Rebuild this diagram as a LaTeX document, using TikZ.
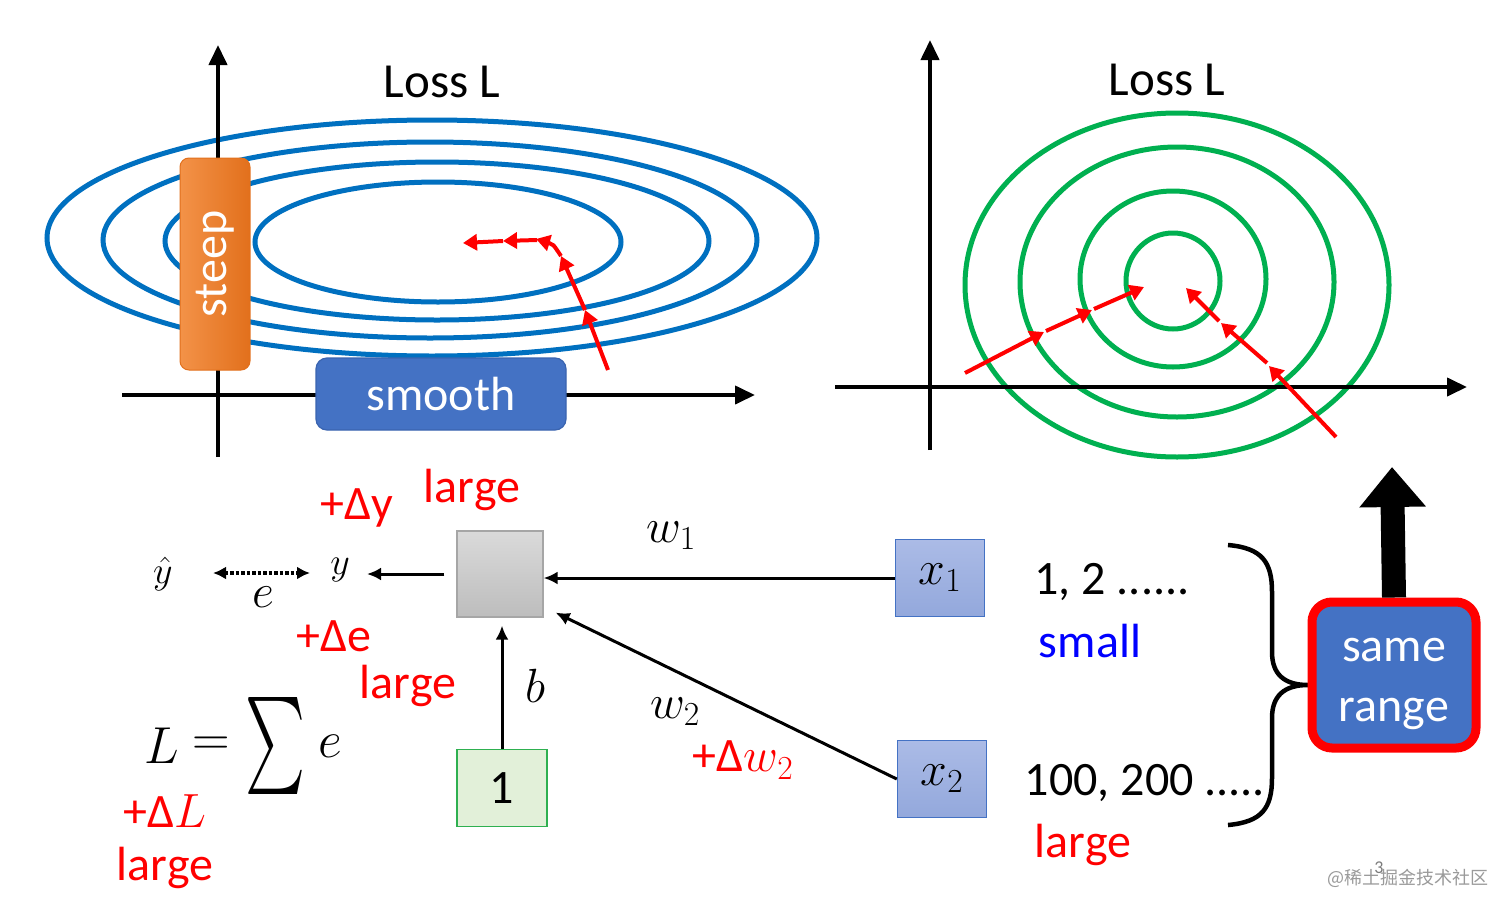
\RequirePackage{fix-cm}
\documentclass[tikz,border=0pt]{standalone}
\usepackage{fontspec}
\setmainfont{Carlito}
\newfontfamily\cjkfont{Noto Sans CJK SC}
\usepackage{graphicx}
\usetikzlibrary{arrows.meta}
\definecolor{ringblue}{HTML}{0070C0}
\definecolor{ringgreen}{HTML}{00B050}
\definecolor{pptred}{HTML}{FF0000}
\definecolor{smoothblue}{HTML}{4472C4}
\definecolor{smoothedge}{HTML}{3A64B0}
\definecolor{xfillA}{HTML}{ABBBE6}
\definecolor{xfillB}{HTML}{93A8DC}
\definecolor{xedge}{HTML}{4472C4}
\definecolor{onefill}{HTML}{E2F0D9}
\definecolor{oneedge}{HTML}{2EB050}
\definecolor{grayA}{HTML}{DADADA}
\definecolor{grayB}{HTML}{BDBDBD}
\definecolor{grayedge}{HTML}{A6A6A6}
\definecolor{steepA}{HTML}{F39248}
\definecolor{steepB}{HTML}{E2701C}
\definecolor{wmgray}{HTML}{9A9A9A}
\newcommand\bigtxt{\fontsize{48bp}{57bp}\selectfont}
\newcommand\mathtxt{\fontsize{48bp}{52bp}\selectfont}
\begin{document}
\begin{tikzpicture}[x=1bp,y=-1bp,
  ringb/.style={draw=ringblue,line width=5bp},
  ringg/.style={draw=ringgreen,line width=5bp},
  axisline/.style={line width=4bp,-{Triangle[width=18bp,length=20bp]}},
  redarr/.style={pptred,line width=4bp,-{Triangle[width=16bp,length=14bp]}},
  losstxt/.style={font=\fontsize{49bp}{57bp}\selectfont,inner sep=0pt},
  steepbox/.style={rounded corners=9bp,draw=steepB,line width=1bp,left color=steepA,right color=steepB,text=white,font=\bigtxt,minimum width=212bp,minimum height=70bp,inner sep=0pt},
  smoothbox/.style={rounded corners=11bp,draw=smoothedge,line width=1.2bp,fill=smoothblue,text=white,font=\bigtxt,minimum width=250bp,minimum height=72bp,inner sep=0pt},
  graybox/.style={draw=grayedge,line width=1.2bp,top color=grayA,bottom color=grayB,minimum width=86bp,minimum height=86bp,inner sep=0pt},
  xbox/.style={draw=xedge,line width=1.5bp,top color=xfillA,bottom color=xfillB,minimum width=89bp,minimum height=77bp,inner sep=0pt,font=\mathtxt},
  onebox/.style={draw=oneedge,line width=1.5bp,fill=onefill,minimum width=90bp,minimum height=77bp,inner sep=0pt,font=\bigtxt},
  arr/.style={line width=3bp,-{Latex[width=13bp,length=14bp]}},
  dotarr/.style={line width=3.5bp,dotted,{Latex[width=13bp,length=13bp]}-{Latex[width=13bp,length=13bp]}},
  redtxt/.style={text=pptred,font=\bigtxt,inner sep=0pt},
  blacktxt/.style={font=\bigtxt,inner sep=0pt},
  mlbl/.style={font=\mathtxt,inner sep=0pt},
  slbl/.style={font=\fontsize{38bp}{42bp}\selectfont,inner sep=0pt},
  samebox/.style={rounded corners=20bp,draw=pptred,line width=9bp,fill=smoothblue,minimum width=164bp,minimum height=146bp,inner sep=0pt},
  sametxt/.style={text=white,font=\bigtxt,align=center,inner sep=0pt},
  bigarrow/.style={line width=24bp,-{Triangle[width=64bp,length=40bp]}},
  brace/.style={line width=4.5bp},
  wm/.style={text=wmgray,font=\cjkfont\fontsize{18bp}{20bp}\selectfont,inner sep=0pt}
]
\useasboundingbox (0,0) rectangle (1512,913);
\fill[white] (0,0) rectangle (1512,913);

% ---------- left panel ----------
\draw[ringb] (432,238) ellipse [x radius=385, y radius=118];
\draw[ringb] (430,240) ellipse [x radius=327, y radius=98];
\draw[ringb] (437,241) ellipse [x radius=272, y radius=79];
\draw[ringb] (438,242) ellipse [x radius=183, y radius=60];
\draw[axisline] (218,457) -- (218,45);
\draw[axisline] (122,395) -- (755,395);
\node[steepbox,rotate=90] (steep) at (215,264) {steep};
\node[smoothbox] (smooth) at (441,394) {smooth};
\node[losstxt] (loss1) at (442,82) {Loss L};
\draw[redarr] (608,370) -- (585,310);
\draw[redarr] (585,310) -- (561,256);
\draw[redarr] (561,256) .. controls (553,244) .. (536,239);
\draw[redarr] (537,240) -- (503,241);
\draw[redarr] (503,241) -- (463,243);

% ---------- right panel ----------
\draw[ringg] (1177,285) ellipse [x radius=212, y radius=172];
\draw[ringg] (1177,282) ellipse [x radius=157, y radius=135];
\draw[ringg] (1173,279) ellipse [x radius=93, y radius=88];
\draw[ringg] (1173,281) ellipse [x radius=47, y radius=48];
\draw[axisline] (930,450) -- (930,40);
\draw[axisline] (835,387) -- (1467,387);
\node[losstxt] (loss2) at (1167,80) {Loss L};
\draw[redarr] (965,373) -- (1044,332);
\draw[redarr] (1046,331) -- (1092,310);
\draw[redarr] (1094,309) -- (1144,287);
\draw[redarr] (1336,437) -- (1269,366);
\draw[redarr] (1267,363) -- (1221,323);
\draw[redarr] (1219,321) -- (1186,288);

% ---------- bottom network ----------
\node[graybox] (g) at (500,574) {};
\node[xbox] (x1) at (940,578) {$x_1$};
\node[xbox] (x2) at (942,779) {$x_2$};
\node[onebox] (one) at (502,788) {1};

\node[slbl] (yhat) at (163,574) {$\hat{y}$};
\node[slbl] (yv) at (340,570) {$y$};
\coordinate (eL) at (213,573);
\coordinate (eR) at (310,573);
\draw[dotarr] (eL) -- (eR);
\node[mlbl] (elbl) at (263,597) {$e$};

\draw[arr,shorten <=12bp] (g.west) -- (367,574);
\draw[arr] (x1.west) -- (x1.west -| g.east);
\draw[arr] (x2.west) -- ([xshift=12bp,yshift=5bp]g.south east);
\draw[arr,shorten >=8bp] (one.north) -- (one.north |- g.south);

\node[mlbl] (w1) at (671,536) {$w_1$};
\node[mlbl] (w2) at (675,712) {$w_2$};
\node[mlbl] (blbl) at (535,686) {$b$};

\node[redtxt] (dy) at (357,508) {+Δy};
\node[redtxt] (large1) at (472,490) {large};
\node[redtxt] (de) at (334,636) {+Δe};
\node[redtxt] (large2) at (408,686) {large};
\node[redtxt] (dL) at (165,811) {+Δ$L$};
\node[redtxt] (large3) at (165,868) {large};
\node[redtxt] (dw2) at (743,760) {+Δ$w_2$};

\node[font=\fontsize{52bp}{56bp}\selectfont,inner sep=0pt] (Lsym) at (162,746) {$L$};
\node[font=\fontsize{52bp}{56bp}\selectfont,inner sep=0pt] (eqsym) at (211,746) {$=$};
\node[inner sep=0pt] (sumsym) at (275,746) {\resizebox*{60bp}{97bp}{$\sum$}};
\node[font=\fontsize{52bp}{56bp}\selectfont,inner sep=0pt] (esym) at (330,746) {$e$};

\node[blacktxt] (n12) at (1112,582) {1, 2 ......};
\node[blacktxt,text=blue] (small) at (1090,641) {small};
\node[blacktxt] (n100) at (1145,783) {100, 200 .....};
\node[redtxt] (large4) at (1083,845) {large};

% brace
\draw[brace] (1228,545) .. controls (1262,548) and (1272,562) .. (1272,592) -- (1272,652)
  .. controls (1272,674) and (1284,685) .. (1308,685)
  .. controls (1284,685) and (1272,696) .. (1272,718) -- (1272,778)
  .. controls (1272,808) and (1262,822) .. (1228,825);

\node[samebox] (sr) at (1394,675) {};
\node[sametxt] (srtext) at (1394,684) {same\\[3bp]range};
\coordinate (upTip) at (1392,467);
\draw[bigarrow] (sr.north) -- (upTip);

\node[inner sep=0pt,text=wmgray!80!black,font=\fontsize{18bp}{20bp}\selectfont] (pg) at (1379,868) {3};
\node[wm] (wmark) at (1408,878) {@稀土掘金技术社区};
\end{tikzpicture}
\end{document}
